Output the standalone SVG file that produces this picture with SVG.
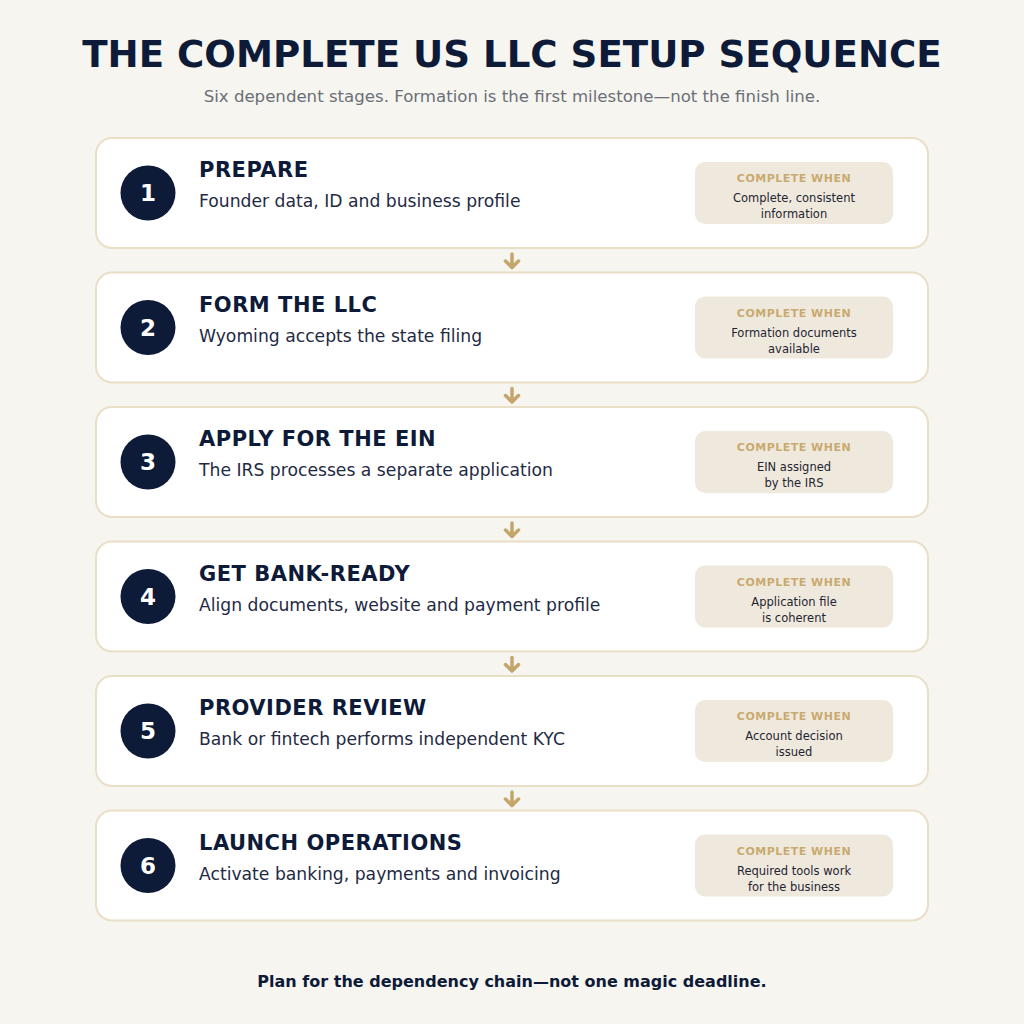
<svg xmlns="http://www.w3.org/2000/svg" width="1024" height="1024" viewBox="0 0 1024 1024">
<defs>
<style>
.bg{fill:#f6f5ef}
.card{fill:#ffffff;stroke:#e9dfc6;stroke-width:2}
.num{fill:#0d1a38}
.numt{font-family:"DejaVu Sans",sans-serif;font-weight:bold;font-size:23px;fill:#ffffff;text-anchor:middle}
.ttl{font-family:"DejaVu Sans",sans-serif;font-weight:bold;font-size:21px;fill:#0d1a38;letter-spacing:0.5px}
.sub{font-family:"DejaVu Sans",sans-serif;font-size:17.2px;fill:#1f2a44}
.badge{fill:#efe9dd}
.bh{font-family:"DejaVu Sans",sans-serif;font-weight:bold;font-size:11px;fill:#c9aa70;text-anchor:middle;letter-spacing:0.5px}
.bt{font-family:"DejaVu Sans",sans-serif;font-size:11.5px;fill:#1f2433;text-anchor:middle}
.arr{fill:none;stroke:#c4a56b;stroke-width:3.5;stroke-linecap:round;stroke-linejoin:round}
</style>
</defs>
<rect class="bg" x="0" y="0" width="1024" height="1024"/>
<text x="512" y="67" text-anchor="middle" font-family="DejaVu Sans, sans-serif" font-weight="bold" font-size="37.2" fill="#0d1a38">THE COMPLETE US LLC SETUP SEQUENCE</text>
<text x="512" y="102" text-anchor="middle" font-family="DejaVu Sans, sans-serif" font-size="16.6" fill="#6b6f78">Six dependent stages. Formation is the first milestone—not the finish line.</text>

<g id="connectors">
<path class="arr" d="M512 254 V267 M505.5 261 L512 267.5 L518.5 261"/>
<path class="arr" d="M512 388.5 V401.5 M505.5 395.5 L512 402 L518.5 395.5"/>
<path class="arr" d="M512 523 V536 M505.5 530 L512 536.5 L518.5 530"/>
<path class="arr" d="M512 657.5 V670.5 M505.5 664.5 L512 671 L518.5 664.5"/>
<path class="arr" d="M512 792 V805 M505.5 799 L512 805.5 L518.5 799"/>
</g>

<g id="step1">
<rect class="card" x="96" y="138" width="832" height="110" rx="16"/>
<circle class="num" cx="148" cy="193" r="27.5"/>
<text class="numt" x="148" y="201">1</text>
<text class="ttl" x="199" y="177">PREPARE</text>
<text class="sub" x="199" y="207">Founder data, ID and business profile</text>
<rect class="badge" x="695" y="162" width="198" height="62" rx="10"/>
<text class="bh" x="794" y="182">COMPLETE WHEN</text>
<text class="bt" x="794" y="202">Complete, consistent</text>
<text class="bt" x="794" y="218">information</text>
</g>

<g id="step2">
<rect class="card" x="96" y="272.5" width="832" height="110" rx="16"/>
<circle class="num" cx="148" cy="327.5" r="27.5"/>
<text class="numt" x="148" y="335.5">2</text>
<text class="ttl" x="199" y="311.5">FORM THE LLC</text>
<text class="sub" x="199" y="341.5">Wyoming accepts the state filing</text>
<rect class="badge" x="695" y="296.5" width="198" height="62" rx="10"/>
<text class="bh" x="794" y="316.5">COMPLETE WHEN</text>
<text class="bt" x="794" y="336.5">Formation documents</text>
<text class="bt" x="794" y="352.5">available</text>
</g>

<g id="step3">
<rect class="card" x="96" y="407" width="832" height="110" rx="16"/>
<circle class="num" cx="148" cy="462" r="27.5"/>
<text class="numt" x="148" y="470">3</text>
<text class="ttl" x="199" y="446">APPLY FOR THE EIN</text>
<text class="sub" x="199" y="476">The IRS processes a separate application</text>
<rect class="badge" x="695" y="431" width="198" height="62" rx="10"/>
<text class="bh" x="794" y="451">COMPLETE WHEN</text>
<text class="bt" x="794" y="471">EIN assigned</text>
<text class="bt" x="794" y="487">by the IRS</text>
</g>

<g id="step4">
<rect class="card" x="96" y="541.5" width="832" height="110" rx="16"/>
<circle class="num" cx="148" cy="596.5" r="27.5"/>
<text class="numt" x="148" y="604.5">4</text>
<text class="ttl" x="199" y="580.5">GET BANK-READY</text>
<text class="sub" x="199" y="610.5">Align documents, website and payment profile</text>
<rect class="badge" x="695" y="565.5" width="198" height="62" rx="10"/>
<text class="bh" x="794" y="585.5">COMPLETE WHEN</text>
<text class="bt" x="794" y="605.5">Application file</text>
<text class="bt" x="794" y="621.5">is coherent</text>
</g>

<g id="step5">
<rect class="card" x="96" y="676" width="832" height="110" rx="16"/>
<circle class="num" cx="148" cy="731" r="27.5"/>
<text class="numt" x="148" y="739">5</text>
<text class="ttl" x="199" y="715">PROVIDER REVIEW</text>
<text class="sub" x="199" y="745">Bank or fintech performs independent KYC</text>
<rect class="badge" x="695" y="700" width="198" height="62" rx="10"/>
<text class="bh" x="794" y="720">COMPLETE WHEN</text>
<text class="bt" x="794" y="740">Account decision</text>
<text class="bt" x="794" y="756">issued</text>
</g>

<g id="step6">
<rect class="card" x="96" y="810.5" width="832" height="110" rx="16"/>
<circle class="num" cx="148" cy="865.5" r="27.5"/>
<text class="numt" x="148" y="873.5">6</text>
<text class="ttl" x="199" y="849.5">LAUNCH OPERATIONS</text>
<text class="sub" x="199" y="879.5">Activate banking, payments and invoicing</text>
<rect class="badge" x="695" y="834.5" width="198" height="62" rx="10"/>
<text class="bh" x="794" y="854.5">COMPLETE WHEN</text>
<text class="bt" x="794" y="874.5">Required tools work</text>
<text class="bt" x="794" y="890.5">for the business</text>
</g>

<text x="512" y="987" text-anchor="middle" font-family="DejaVu Sans, sans-serif" font-weight="bold" font-size="16" fill="#0d1a38">Plan for the dependency chain—not one magic deadline.</text>
</svg>
